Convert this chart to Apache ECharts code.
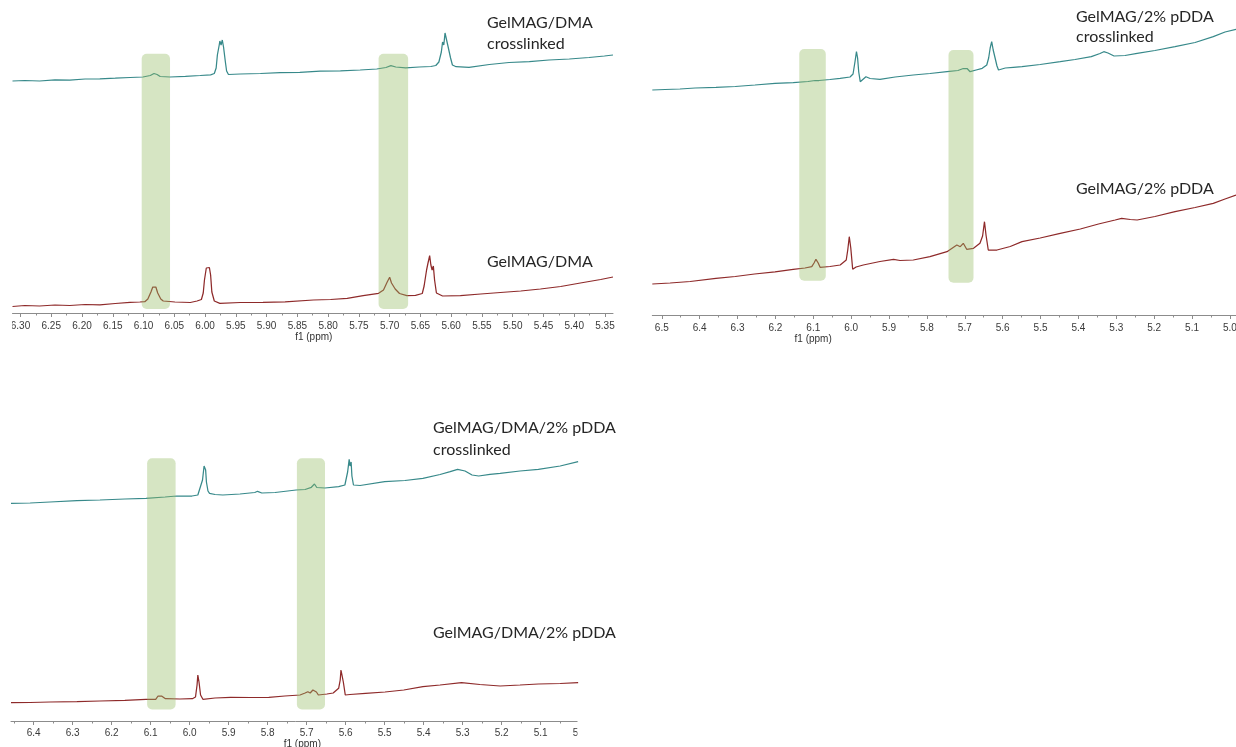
<!DOCTYPE html>
<html>
<head>
<meta charset="utf-8">
<script src="https://cdn.jsdelivr.net/npm/echarts@6/dist/echarts.min.js"></script>
<style>
  html, body { margin: 0; padding: 0; background: #fff; }
  #chart { width: 1236px; height: 747px; }
</style>
</head>
<body>
<div id="chart"></div>
<script>
// 1H NMR spectra, vinyl region (chemical shift in ppm, intensity in arbitrary units, stacked)

// ---- Panel A: GelMAG/DMA ----
const ticksA = [6.30, 6.25, 6.20, 6.15, 6.10, 6.05, 6.00, 5.95, 5.90, 5.85, 5.80, 5.75, 5.70, 5.65, 5.60, 5.55, 5.50, 5.45, 5.40, 5.35];
const minorA = [6.275, 6.225, 6.175, 6.125, 6.075, 6.025, 5.975, 5.925, 5.875, 5.825, 5.775, 5.725, 5.675, 5.625, 5.575, 5.525, 5.475, 5.425, 5.375];
const dmaCrosslinked = [
  [6.313, 232], [6.293, 232.5], [6.269, 232], [6.244, 233.2], [6.220, 232.8], [6.195, 234], [6.171, 234.2],
  [6.146, 234.8], [6.122, 235.5], [6.101, 236], [6.089, 237.5], [6.083, 239.5], [6.078, 238.5], [6.073, 236.5],
  [6.057, 236], [6.032, 236.7], [6.008, 237.5], [5.991, 238.2], [5.985, 239.5], [5.982, 245], [5.980, 258],
  [5.977, 268], [5.976, 272], [5.974, 268], [5.972, 273], [5.970, 266], [5.967, 251], [5.965, 242], [5.962, 238.5],
  [5.943, 239], [5.910, 239.5], [5.878, 240.4], [5.846, 240.7], [5.813, 241.8], [5.780, 242.2], [5.748, 243],
  [5.721, 244], [5.706, 245.5], [5.698, 247.3], [5.690, 246], [5.674, 245.2], [5.652, 246], [5.633, 246.5],
  [5.625, 247.5], [5.620, 251], [5.616, 261], [5.614, 271], [5.612, 268], [5.610, 280], [5.608, 281],
  [5.606, 269], [5.603, 267], [5.601, 255], [5.598, 248], [5.592, 246.3], [5.571, 245.7], [5.538, 248.5],
  [5.506, 250.5], [5.473, 251.3], [5.441, 253], [5.408, 254], [5.376, 255.5], [5.351, 257], [5.337, 258]
];
const dma = [
  [6.313, 6.5], [6.293, 7.5], [6.269, 7], [6.244, 8], [6.220, 7.5], [6.195, 8.5], [6.171, 8.2], [6.146, 9.5],
  [6.122, 10.7], [6.106, 11], [6.098, 11.3], [6.093, 14], [6.088, 21], [6.085, 26], [6.082, 27.5], [6.080, 26],
  [6.077, 20], [6.072, 14], [6.068, 12], [6.049, 11], [6.024, 10.5], [6.013, 12], [6.006, 13.5], [6.003, 20],
  [6.001, 33], [5.998, 45], [5.997, 47], [5.995, 43], [5.993, 45.5], [5.991, 38], [5.989, 21], [5.985, 12],
  [5.976, 9.7], [5.943, 10.5], [5.906, 10.7], [5.870, 11.2], [5.824, 13], [5.796, 13.5], [5.769, 14.7],
  [5.743, 17.3], [5.718, 19.7], [5.710, 23], [5.704, 31], [5.702, 32], [5.700, 35.7], [5.697, 30], [5.695, 28],
  [5.691, 24], [5.684, 19.5], [5.672, 17.3], [5.658, 17.7], [5.647, 19.5], [5.644, 27], [5.640, 43],
  [5.638, 49], [5.636, 47], [5.635, 57.3], [5.633, 48], [5.631, 43], [5.629, 47], [5.627, 33], [5.624, 20],
  [5.614, 17], [5.585, 17.3], [5.552, 19], [5.520, 20.5], [5.487, 22], [5.455, 24], [5.422, 26.5],
  [5.390, 30], [5.357, 33.5], [5.337, 36]
];
// highlighted vinyl signals: [ppm high, ppm low, top, bottom]
const bandsA = [[6.103, 6.057, 259.3, 4], [5.718, 5.670, 259.3, 4]];

// ---- Panel B: GelMAG/2% pDDA ----
const ticksB = [6.5, 6.4, 6.3, 6.2, 6.1, 6.0, 5.9, 5.8, 5.7, 5.6, 5.5, 5.4, 5.3, 5.2, 5.1, 5.0];
const minorB = [6.45, 6.35, 6.25, 6.15, 6.05, 5.95, 5.85, 5.75, 5.65, 5.55, 5.45, 5.35, 5.25, 5.15, 5.05];
const pddaCrosslinked = [
  [6.525, 225], [6.491, 225.5], [6.452, 226], [6.412, 227], [6.357, 227.7], [6.306, 228.5], [6.254, 230],
  [6.201, 231.7], [6.153, 232.3], [6.114, 233.5], [6.095, 234.5], [6.090, 236], [6.085, 234.5], [6.056, 235.5],
  [6.029, 236.7], [6.003, 238], [5.995, 241], [5.990, 253], [5.986, 263.3], [5.983, 257], [5.980, 243],
  [5.976, 233.3], [5.971, 235], [5.961, 238.3], [5.950, 236.5], [5.924, 235.7], [5.884, 238], [5.836, 240],
  [5.792, 241.5], [5.747, 243.3], [5.718, 244.5], [5.704, 246.5], [5.699, 248.3], [5.694, 246.5], [5.686, 243.3],
  [5.670, 245], [5.654, 246.7], [5.642, 250], [5.637, 257], [5.633, 267], [5.629, 273.3], [5.625, 265],
  [5.621, 263], [5.615, 249], [5.611, 245], [5.593, 247], [5.572, 247.7], [5.549, 248.3], [5.501, 250.5],
  [5.448, 253.3], [5.409, 255.5], [5.366, 258.3], [5.343, 261.5], [5.333, 263.3], [5.322, 262], [5.306, 259],
  [5.277, 259.5], [5.245, 261.7], [5.198, 264.5], [5.145, 268.3], [5.092, 272.5], [5.044, 278.3],
  [5.013, 283], [4.984, 285.7]
];
const pdda = [
  [6.525, 31], [6.478, 32], [6.425, 33.5], [6.357, 36.7], [6.306, 38.5], [6.255, 41], [6.201, 43.2],
  [6.153, 45.7], [6.122, 47], [6.104, 48.3], [6.098, 52], [6.093, 55.7], [6.087, 52], [6.082, 47.7],
  [6.056, 48.5], [6.029, 50], [6.013, 55], [6.009, 65], [6.005, 78.3], [6.001, 67], [5.996, 45.7],
  [5.987, 48], [5.968, 50], [5.924, 53.5], [5.888, 55.7], [5.871, 54.5], [5.836, 55], [5.792, 58.3],
  [5.747, 63.3], [5.721, 70], [5.712, 68.3], [5.704, 71.7], [5.695, 65.7], [5.677, 66.7], [5.660, 71.7],
  [5.653, 79], [5.648, 93.3], [5.644, 80], [5.638, 65], [5.615, 65], [5.580, 68.5], [5.549, 73.3],
  [5.501, 77], [5.448, 81.7], [5.395, 86], [5.347, 91], [5.303, 95], [5.286, 96.7], [5.263, 95.5],
  [5.245, 95], [5.198, 98.5], [5.145, 103.3], [5.092, 107.5], [5.044, 111.7], [5.013, 116], [4.984, 120]
];
const bandsB = [[6.137, 6.067, 266, 34.3], [5.743, 5.677, 265, 32.3]];

// ---- Panel C: GelMAG/DMA/2% pDDA ----
const ticksC = [6.4, 6.3, 6.2, 6.1, 6.0, 5.9, 5.8, 5.7, 5.6, 5.5, 5.4, 5.3, 5.2, 5.1, 5.0];
const minorC = [6.45, 6.35, 6.25, 6.15, 6.05, 5.95, 5.85, 5.75, 5.65, 5.55, 5.45, 5.35, 5.25, 5.15, 5.05];
const dmaPddaCrosslinked = [
  [6.458, 217.7], [6.409, 218], [6.358, 219], [6.289, 220.3], [6.230, 221], [6.166, 222], [6.112, 222.7],
  [6.063, 224], [6.033, 225], [5.994, 225], [5.979, 226], [5.974, 227.7], [5.967, 241], [5.963, 255],
  [5.962, 256], [5.959, 251], [5.957, 239], [5.953, 230], [5.949, 227.7], [5.935, 226.5], [5.915, 226],
  [5.871, 227], [5.833, 228.5], [5.826, 229.7], [5.815, 228], [5.781, 228.5], [5.727, 231], [5.704, 231.5],
  [5.688, 233.7], [5.680, 237], [5.674, 233.5], [5.653, 233], [5.618, 234.3], [5.602, 236], [5.595, 249],
  [5.591, 261.7], [5.589, 255], [5.586, 259], [5.584, 245], [5.580, 236], [5.563, 235.5], [5.500, 239.3],
  [5.448, 240.5], [5.402, 242.7], [5.358, 246.5], [5.332, 249.3], [5.313, 251.7], [5.294, 250], [5.276, 246],
  [5.259, 245], [5.230, 246.7], [5.204, 247.7], [5.153, 250], [5.106, 251.7], [5.050, 255], [5.004, 259.3]
];
const dmaPdda = [
  [6.458, 18.3], [6.409, 18.5], [6.358, 19], [6.289, 19.3], [6.230, 20], [6.166, 20.7], [6.112, 21.7],
  [6.087, 21.7], [6.081, 25], [6.077, 26.7], [6.072, 25], [6.062, 22.3], [6.025, 22], [5.993, 22.3],
  [5.985, 24], [5.981, 36], [5.979, 46], [5.976, 39], [5.972, 26], [5.966, 21.7], [5.935, 23], [5.895, 23.7],
  [5.845, 23.5], [5.797, 23.7], [5.756, 25], [5.717, 26], [5.704, 28], [5.697, 29.3], [5.691, 28], [5.684, 31],
  [5.679, 32.7], [5.675, 29], [5.670, 26], [5.648, 27], [5.632, 28], [5.618, 32.7], [5.614, 41], [5.612, 51],
  [5.609, 45], [5.606, 39], [5.601, 26], [5.589, 26.5], [5.549, 27.7], [5.499, 29], [5.451, 31], [5.402, 34.3],
  [5.358, 36], [5.303, 38.3], [5.256, 36.5], [5.204, 35], [5.153, 36], [5.106, 37], [5.050, 37.5], [5.004, 38.3]
];
const bandsC = [[6.109, 6.036, 262.7, 11.5], [5.725, 5.653, 262.7, 11.5]];

const TEAL = '#37898a';
const RED = '#8e2a2a';
const BAND = 'rgba(148,186,96,0.38)';
const LABEL_FONT = 'Lato, "Open Sans", sans-serif';

const panels = [
  { grid: { left: 12.5, top: 13, width: 600.5, height: 300 }, max: 6.313, min: 5.337,
    ticks: ticksA, minor: minorA, digits: 2, margin: 8, namePad: [0, 0, 0, 2], nameGap: 18,
    upper: dmaCrosslinked, lower: dma, bands: bandsA },
  { grid: { left: 652.3, top: 15, width: 583.7, height: 300 }, max: 6.525, min: 4.984,
    ticks: ticksB, minor: minorB, digits: 1, margin: 8, namePad: [0, 262, 0, 0], nameGap: 18,
    upper: pddaCrosslinked, lower: pdda, bands: bandsB },
  { grid: { left: 11, top: 421, width: 568.7, height: 300 }, max: 6.458, min: 5.0,
    ticks: ticksC, minor: minorC, digits: 1, margin: 7, namePad: [0, 0, 0, 14], nameGap: 16,
    upper: dmaPddaCrosslinked, lower: dmaPdda, bands: bandsC }
];

const grid = [], xAxis = [], yAxis = [], series = [];
panels.forEach((p, i) => {
  grid.push(Object.assign({ containLabel: false, outerBoundsMode: 'none' }, p.grid));
  // main axis: labelled ticks
  xAxis.push({
    type: 'value', gridIndex: i, inverse: true, min: p.min, max: p.max,
    name: 'f1 (ppm)', nameLocation: 'middle', nameGap: p.nameGap,
    nameTextStyle: { fontSize: 10, color: '#333', fontFamily: '"Liberation Sans", Arial, sans-serif', padding: p.namePad },
    axisLine: { show: true, onZero: false, lineStyle: { color: '#8c8c8c', width: 1 } },
    axisTick: { show: true, length: 4, customValues: p.ticks, lineStyle: { color: '#8c8c8c' } },
    axisLabel: { show: true, customValues: p.ticks, margin: p.margin, fontSize: 10, color: '#3a3a3a',
      fontFamily: '"Liberation Sans", Arial, sans-serif', formatter: v => v.toFixed(p.digits) },
    splitLine: { show: false }
  });
  // companion axis: intermediate ticks only
  xAxis.push({
    type: 'value', gridIndex: i, inverse: true, min: p.min, max: p.max, position: 'bottom',
    axisLine: { show: false }, axisLabel: { show: false }, splitLine: { show: false },
    axisTick: { show: true, length: 2.5, customValues: p.minor, lineStyle: { color: '#8c8c8c' } }
  });
  yAxis.push({ type: 'value', gridIndex: i, min: 0, max: 300, show: false });

  series.push({
    type: 'line', xAxisIndex: 2 * i, yAxisIndex: i, data: p.upper, showSymbol: false,
    lineStyle: { color: TEAL, width: 1.25 }, z: 2, silent: true
  });
  series.push({
    type: 'line', xAxisIndex: 2 * i, yAxisIndex: i, data: p.lower, showSymbol: false,
    lineStyle: { color: RED, width: 1.25 }, z: 2, silent: true
  });
  series.push({
    type: 'custom', xAxisIndex: 2 * i, yAxisIndex: i, data: p.bands, z: 5, silent: true,
    encode: { x: [0, 1], y: [2, 3] },
    renderItem: (params, api) => {
      const a = api.coord([api.value(0), api.value(2)]);
      const b = api.coord([api.value(1), api.value(3)]);
      return {
        type: 'rect',
        shape: { x: Math.min(a[0], b[0]), y: Math.min(a[1], b[1]),
                 width: Math.abs(b[0] - a[0]), height: Math.abs(b[1] - a[1]), r: 5 },
        style: { fill: BAND }
      };
    }
  });
});

function label(text, x, y) {
  return { type: 'text', x: x, y: y, z: 50,
    style: { text: text, fontSize: 16, fontFamily: LABEL_FONT, fill: '#262626', verticalAlign: 'middle' } };
}

const option = {
  animation: false,
  backgroundColor: '#ffffff',
  grid, xAxis, yAxis, series,
  graphic: [
    label('GelMAG/DMA', 487, 23),
    label('crosslinked', 487, 44),
    label('GelMAG/DMA', 487, 262),
    label('GelMAG/2% pDDA', 1076, 17),
    label('crosslinked', 1076, 37),
    label('GelMAG/2% pDDA', 1076, 189),
    label('GelMAG/DMA/2% pDDA', 433, 428),
    label('crosslinked', 433, 450),
    label('GelMAG/DMA/2% pDDA', 433, 633),
    // trimmed edges of the spectrum plots
    { type: 'rect', z: 60, shape: { x: 0, y: 314, width: 12, height: 26 }, style: { fill: '#fff' } },
    { type: 'rect', z: 60, shape: { x: 577.5, y: 690, width: 40, height: 57 }, style: { fill: '#fff' } }
  ]
};

const chart = echarts.init(document.getElementById('chart'), null, { renderer: 'canvas' });
chart.setOption(option);
</script>
</body>
</html>
